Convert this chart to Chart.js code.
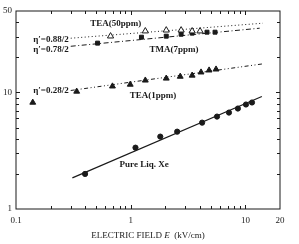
<!DOCTYPE html>
<html>
<head>
<meta charset="utf-8">
<script src="https://cdn.jsdelivr.net/npm/chart.js@4.4.1/dist/chart.umd.min.js"></script>
<style>
  html, body { margin: 0; padding: 0; background: #fff; }
  #wrap { width: 299px; height: 244px; }
</style>
</head>
<body>
<div id="wrap"><canvas id="chart"></canvas></div>
<script>
// values (field in kV/cm, signal on log scale)
var xeField = [0.40, 1.10, 1.81, 2.54, 4.19, 5.65, 7.18, 8.59, 10.1, 11.4];
var xeSignal = [2.0, 3.36, 4.18, 4.61, 5.51, 6.21, 6.72, 7.28, 7.88, 8.2];
var xeFitField = [0.31, 13.9];
var xeFitSignal = [1.85, 9.24];

var tea1Field = [0.14, 0.338, 0.693, 0.99, 1.34, 2.04, 2.70, 3.43, 4.10, 4.82, 5.54];
var tea1Signal = [8.2, 10.2, 11.3, 11.7, 12.7, 13.2, 13.7, 14.0, 14.9, 15.5, 15.8];
var tea1FitField = [0.30, 14.2];
var tea1FitSignal = [10.4, 17.6];

var tea50Field = [0.667, 1.34, 2.04, 2.75, 3.43, 4.02];
var tea50Signal = [30.4, 33.6, 34.2, 34.2, 33.6, 33.6];
var tea50FitField = [0.30, 14.2];
var tea50FitSignal = [29.2, 39.3];

var tmaField = [0.514, 1.24, 2.04, 2.75, 3.43, 4.62, 5.43];
var tmaSignal = [26.5, 29.8, 30.4, 31.6, 32.3, 32.9, 32.9];
var tmaFitField = [0.30, 13.3];
var tmaFitSignal = [24.9, 35.6];

var xTickLabels = [0.1, 1, 10, 20];
var yTickLabels = [1, 10, 50];
var xMinorTicks = [0.2, 0.3, 0.4, 0.5, 0.6, 0.7, 0.8, 0.9, 1, 2, 3, 4, 5, 6, 7, 8, 9, 10];
var yMinorTicks = [2, 3, 4, 5, 6, 7, 8, 9, 10, 20, 30, 40];

// text notes placed in data coordinates
var notes = [
  { text: "TEA(50ppm)", x: 0.74, y: 38.6, align: "center" },
  { text: "\u03b7\u2032=0.88/2", x: 0.288, y: 28.6, align: "right" },
  { text: "\u03b7\u2032=0.78/2", x: 0.288, y: 23.5, align: "right" },
  { text: "TMA(7ppm)", x: 1.46, y: 23.5, align: "left" },
  { text: "\u03b7\u2032=0.28/2", x: 0.288, y: 10.4, align: "right" },
  { text: "TEA(1ppm)", x: 0.98, y: 9.42, align: "left" },
  { text: "Pure Liq. Xe", x: 0.80, y: 2.39, align: "left" }
];

function pairs(xs, ys) {
  return xs.map(function (x, i) { return { x: x, y: ys[i] }; });
}

var ink = "#1a1a1a";
var serif = "'Liberation Serif', 'DejaVu Serif', serif";

var framePlugin = {
  id: "frame",
  afterDatasetsDraw: function (chart) {
    var c = chart.ctx, a = chart.chartArea;
    var xs = chart.scales.x, ys = chart.scales.y;
    c.save();
    c.strokeStyle = ink;
    c.lineWidth = 1;
    c.strokeRect(a.left, a.top, a.right - a.left, a.bottom - a.top);
    c.beginPath();
    xMinorTicks.forEach(function (v) {
      var px = Math.round(xs.getPixelForValue(v)) + 0.5;
      var len = (v === 1 || v === 10) ? 4 : 3;
      c.moveTo(px, a.bottom); c.lineTo(px, a.bottom - len);
      c.moveTo(px, a.top); c.lineTo(px, a.top + len);
    });
    yMinorTicks.forEach(function (v) {
      var py = Math.round(ys.getPixelForValue(v)) + 0.5;
      var len = (v === 10) ? 4 : 3;
      c.moveTo(a.left, py); c.lineTo(a.left + len, py);
      c.moveTo(a.right, py); c.lineTo(a.right - len, py);
    });
    c.stroke();

    c.fillStyle = ink;
    c.font = "bold 9px " + serif;
    c.textBaseline = "middle";
    notes.forEach(function (n) {
      c.textAlign = n.align;
      c.fillText(n.text, xs.getPixelForValue(n.x), ys.getPixelForValue(n.y));
    });

    // axis title with italic E
    var parts = [
      { t: "ELECTRIC FIELD ", f: "9px " + serif },
      { t: "E", f: "italic 9px " + serif },
      { t: "  (kV/cm)", f: "9px " + serif }
    ];
    var total = 0;
    parts.forEach(function (p) { c.font = p.f; p.w = c.measureText(p.t).width; total += p.w; });
    var cx = (a.left + a.right) / 2 - total / 2;
    c.textAlign = "left";
    parts.forEach(function (p) { c.font = p.f; c.fillText(p.t, cx, 236); cx += p.w; });
    c.restore();
  }
};

var markerBase = { type: "scatter", showLine: false, borderColor: ink, borderWidth: 1, order: 1 };
var lineBase = { type: "scatter", showLine: true, pointRadius: 0, borderColor: ink, borderWidth: 1, fill: false, order: 2 };

new Chart(document.getElementById("chart"), {
  type: "scatter",
  data: {
    datasets: [
      Object.assign({}, markerBase, { label: "Pure Liq. Xe", data: pairs(xeField, xeSignal), pointStyle: "circle", pointRadius: 2.6, backgroundColor: ink }),
      Object.assign({}, markerBase, { label: "TEA(1ppm)", data: pairs(tea1Field, tea1Signal), pointStyle: "triangle", pointRadius: 3.4, backgroundColor: ink }),
      Object.assign({}, markerBase, { label: "TEA(50ppm)", data: pairs(tea50Field, tea50Signal), pointStyle: "triangle", pointRadius: 3.6, backgroundColor: "#fff" }),
      Object.assign({}, markerBase, { label: "TMA(7ppm)", data: pairs(tmaField, tmaSignal), pointStyle: "rect", pointRadius: 2.8, backgroundColor: ink }),
      Object.assign({}, lineBase, { label: "Xe fit", data: pairs(xeFitField, xeFitSignal), borderWidth: 1.2 }),
      Object.assign({}, lineBase, { label: "TEA1 fit", data: pairs(tea1FitField, tea1FitSignal), borderDash: [4, 2.5, 1, 2.5, 1, 2.5] }),
      Object.assign({}, lineBase, { label: "TEA50 fit", data: pairs(tea50FitField, tea50FitSignal), borderDash: [1, 2.5] }),
      Object.assign({}, lineBase, { label: "TMA fit", data: pairs(tmaFitField, tmaFitSignal), borderDash: [5, 2.5, 1, 2.5] })
    ]
  },
  options: {
    responsive: true,
    maintainAspectRatio: false,
    animation: false,
    layout: { padding: { top: 11, right: 19, left: 0, bottom: 0 } },
    plugins: { legend: { display: false }, tooltip: { enabled: false } },
    scales: {
      x: {
        type: "logarithmic",
        min: 0.1, max: 20,
        afterBuildTicks: function (s) { s.ticks = xTickLabels.map(function (v) { return { value: v }; }); },
        afterFit: function (s) { s.height = 35; },
        grid: { display: false, drawTicks: false },
        border: { display: false },
        ticks: {
          padding: 6, color: ink, maxRotation: 0, autoSkip: false,
          font: { family: serif, size: 9 },
          callback: function (v) { return String(v); }
        }
      },
      y: {
        type: "logarithmic",
        min: 1, max: 50,
        afterBuildTicks: function (s) { s.ticks = yTickLabels.map(function (v) { return { value: v }; }); },
        afterFit: function (s) { s.width = 16; },
        grid: { display: false, drawTicks: false },
        border: { display: false },
        ticks: {
          padding: 4, color: ink, autoSkip: false,
          font: { family: serif, size: 9 },
          callback: function (v) { return String(v); }
        }
      }
    }
  },
  plugins: [framePlugin]
});
</script>
</body>
</html>
